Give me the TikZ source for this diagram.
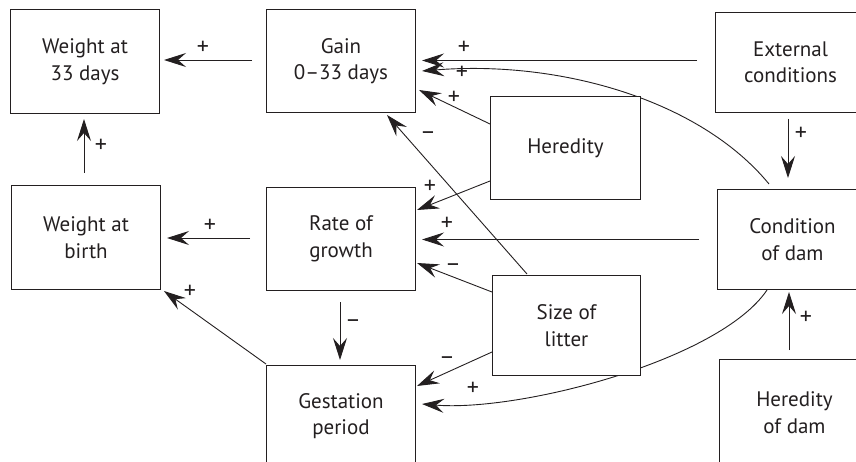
\documentclass[tikz,border=0pt]{standalone}
\usepackage{fontspec}
\setmainfont{PT Sans}
\usetikzlibrary{arrows.meta,calc,backgrounds}
\definecolor{ink}{HTML}{231F20}
\begin{document}
\begin{tikzpicture}[x=1pt,y=-1pt,
  box/.style={draw=ink,fill=white,line width=1pt,anchor=north west,inner sep=0pt,
    align=center,text=ink,font=\fontsize{21}{26.5}\selectfont},
  arr/.style={draw=ink,line width=0.9pt,-{Stealth[length=22pt,width=14pt,inset=8pt]}},
  lbl/.style={text=ink,inner sep=0pt,font=\fontsize{24}{25}\selectfont}]
\useasboundingbox (0,0) rectangle (856,462);
\clip (0,0) rectangle (856,462);

% boxes
\node[box,minimum width=149pt,minimum height=104pt] (w33) at (10,9) {Weight at\\33 days};
\node[box,minimum width=149pt,minimum height=103pt] (gain) at (266,9) {Gain\\0–33 days};
\node[box,minimum width=150pt,minimum height=100pt] (ext) at (715,12) {External\\conditions};
\node[box,minimum width=150pt,minimum height=103pt] (her) at (490,96) {Heredity};
\node[box,minimum width=149pt,minimum height=104pt] (wb) at (11,185) {Weight at\\birth};
\node[box,minimum width=149pt,minimum height=103pt] (rate) at (266,187) {Rate of\\growth};
\node[box,minimum width=150pt,minimum height=100pt] (cond) at (717,189) {Condition\\of dam};
\node[box,minimum width=148pt,minimum height=100pt] (litter) at (492,275) {Size of\\litter};
\node[box,minimum width=149pt,minimum height=101pt] (gest) at (266,365) {Gestation\\period};
\node[box,minimum width=150pt,minimum height=106pt] (herdam) at (719,359) {Heredity\\of dam};

% curved connectors behind the boxes
\begin{scope}[on background layer]
\draw[arr] ($(cond.north west)+(52,-5)$) .. controls (700,100) and (560,60) .. ($(gain.north east)+(6,62)$);
\draw[arr] ($(cond.south west)+(50,0)$) .. controls (720,360) and (520,412) .. ($(gest.north east)+(6,39)$);
\end{scope}

% straight connectors
\draw[arr] ($(gain.north west)+(-14,51)$) -- ($(w33.north east)+(4,51)$);
\draw[arr] ($(wb.north west)+(73,-12)$) -- ($(w33.south west)+(74,5)$);
\draw[arr] ($(rate.north west)+(-16,51)$) -- ($(wb.north east)+(6,53)$);
\draw[arr] ($(gest.north west)+(0,-1)$) -- ($(wb.south east)+(3,1)$);
\draw[arr] ($(rate.south west)+(74,11)$) -- ($(gest.north west)+(74,-5)$);
\draw[arr] ($(ext.north west)+(-18,48.5)$) -- ($(gain.north east)+(6,51.5)$);
\draw[arr] ($(her.north west)+(0,28)$) -- ($(gain.north east)+(3,81)$);
\draw[arr] ($(litter.north west)+(35,-1)$) -- ($(gain.south east)+(-29,2)$);
\draw[arr] ($(her.north west)+(0,85)$) -- ($(rate.north east)+(1,23)$);
\draw[arr] ($(cond.north west)+(-18,50.5)$) -- ($(rate.north east)+(6,52.5)$);
\draw[arr] ($(litter.north west)+(0,17)$) -- ($(rate.north east)+(1,76)$);
\draw[arr] ($(litter.north west)+(0,77)$) -- ($(gest.north east)+(1,21)$);
\draw[arr] ($(ext.south west)+(73,6)$) -- ($(cond.north west)+(71,-11)$);
\draw[arr] ($(herdam.north west)+(70,-9)$) -- ($(cond.south west)+(72,2)$);

% labels
\node[lbl] (l1) at (203,48) {+};
\node[lbl] (l2) at (101,146) {+};
\node[lbl] (l3) at (210,226) {+};
\node[lbl] (l4) at (190,292) {+};
\node[lbl] (l5) at (353,324) {–};
\node[lbl] (l6) at (464,48) {+};
\node[lbl] (l7) at (462,73) {+};
\node[lbl] (l8) at (454,98) {+};
\node[lbl] (l9) at (428,136) {–};
\node[lbl] (l10) at (430,187) {+};
\node[lbl] (l11) at (447,224) {+};
\node[lbl] (l12) at (453,268) {–};
\node[lbl] (l13) at (447,361) {–};
\node[lbl] (l14) at (473,389) {+};
\node[lbl] (l15) at (801,134) {+};
\node[lbl] (l16) at (806,318) {+};
\end{tikzpicture}
\end{document}
